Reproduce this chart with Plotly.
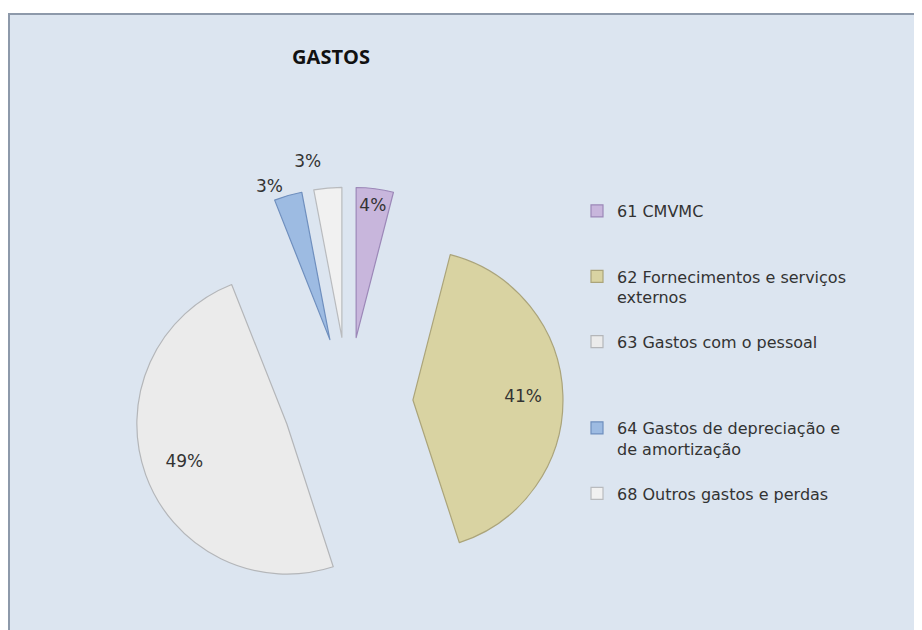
import plotly.graph_objects as go

labels = [
    "61 CMVMC<br> <br> ",
    "62 Fornecimentos e serviços<br>externos<br> ",
    "63 Gastos com o pessoal<br> <br> <br> ",
    "64 Gastos de depreciação e<br>de amortização<br> ",
    "68 Outros gastos e perdas",
]
values = [4, 41, 49, 3, 3]
colors = ["#c8b6dc", "#d9d3a2", "#ebebeb", "#9dbbe2", "#f1f1f1"]
edge_colors = ["#9c88b8", "#aba47a", "#b4b6b9", "#6f8fbe", "#b9bbbe"]

W, H = 922, 630
OFF = 8  # page offset of the figure in the browser


def px(x):
    return (x - OFF) / W


def py(y):
    return 1 - (y - OFF) / H


CX, CY = px(348), py(402)
FONT = dict(family="DejaVu Sans", size=17, color="#333333")

fig = go.Figure()
# the pie itself (labels of the thin slices 61 and 64)
fig.add_trace(go.Pie(
    labels=labels,
    values=values,
    sort=False,
    direction="clockwise",
    rotation=0,
    pull=0.433,
    marker=dict(colors=colors, line=dict(color=edge_colors, width=1.2)),
    texttemplate=["%{percent}", "", "", "%{percent}", ""],
    textposition=["inside", "inside", "inside", "outside", "inside"],
    insidetextorientation="horizontal",
    textfont=FONT,
    outsidetextfont=FONT,
    domain=dict(x=[CX - 240 / W, CX + 240 / W], y=[CY - 215 / H, CY + 215 / H]),
    hoverinfo="label+percent",
))
# transparent companion pie (same centre) that places the remaining labels
fig.add_trace(go.Pie(
    labels=labels,
    values=values,
    sort=False,
    direction="clockwise",
    rotation=0,
    pull=1.0,
    marker=dict(colors=["rgba(0,0,0,0)"] * 5, line=dict(width=0)),
    texttemplate=["", "%{percent}", "%{percent}", "", "%{percent}"],
    textposition=["inside", "inside", "inside", "inside", "outside"],
    insidetextorientation="horizontal",
    textfont=FONT,
    outsidetextfont=FONT,
    domain=dict(x=[CX - 240 / W, CX + 240 / W], y=[CY - 232 / H, CY + 232 / H]),
    hoverinfo="skip",
    showlegend=False,
))

fig.update_layout(
    width=W, height=H,
    margin=dict(l=0, r=0, t=0, b=0, autoexpand=False),
    paper_bgcolor="white",
    uniformtext=dict(mode="show", minsize=17),
    title=dict(
        text="<b>GASTOS</b>",
        x=px(331), xanchor="center", xref="container",
        y=py(57), yanchor="middle", yref="container",
        font=dict(family="Open Sans", size=20, color="#111111"),
    ),
    legend=dict(
        x=px(577), xanchor="left",
        y=py(194), yanchor="top",
        valign="top",
        bgcolor="rgba(0,0,0,0)",
        font=dict(family="DejaVu Sans", size=16, color="#333333"),
    ),
    shapes=[dict(
        type="rect", xref="paper", yref="paper",
        x0=px(9), x1=1.02, y0=-0.02, y1=py(14),
        fillcolor="#dce5f0", line=dict(color="#8d99aa", width=2),
        layer="below",
    )],
)

fig.write_html("out.html")
